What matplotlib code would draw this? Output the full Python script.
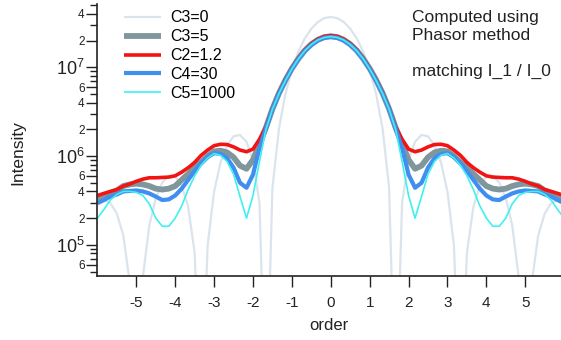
import numpy as np
import matplotlib
matplotlib.use("Agg")
import matplotlib.pyplot as plt
from matplotlib.ticker import FuncFormatter, FixedLocator

plt.rcParams["font.family"] = ["Liberation Sans", "DejaVu Sans"]
plt.rcParams["mathtext.fontset"] = "custom"
plt.rcParams["mathtext.rm"] = "Liberation Sans"
plt.rcParams["mathtext.it"] = "Liberation Sans:italic"
plt.rcParams["axes.unicode_minus"] = False

# diffraction order, sampled every 1/6
order = np.arange(-36, 37) / 6.0

c3_0 = [3.0e5, 3.2e5, 2.95e5, 2.25e5, 1.27e5, 3.7e4, 1e3, 4.3e4, 1.65e5, 3.37e5,
        5.02e5, 6.0e5, 5.89e5, 4.64e5, 2.68e5, 8.1e4, 1e3, 9.9e4, 4.0e5, 8.5e5,
        1.32e6, 1.67e6, 1.73e6, 1.45e6, 9.0e5, 2.96e5, 1e3, 4.42e5, 2.02e6, 5.01e6,
        9.42e6, 1.5e7, 2.12e7, 2.73e7, 3.24e7, 3.58e7,
        3.7e7,
        3.58e7, 3.24e7, 2.73e7, 2.12e7, 1.5e7, 9.42e6, 5.01e6, 2.02e6, 4.42e5, 1e3,
        2.96e5, 9.0e5, 1.45e6, 1.73e6, 1.67e6, 1.32e6, 8.5e5, 4.0e5, 9.9e4, 1e3,
        8.1e4, 2.68e5, 4.64e5, 5.89e5, 6.0e5, 5.02e5, 3.37e5, 1.65e5, 4.3e4, 1e3,
        3.7e4, 1.27e5, 2.25e5, 2.95e5, 3.2e5, 3.0e5]

c3_5 = [3.3e5, 3.55e5, 3.85e5, 4.1e5, 4.6e5, 4.8e5, 4.9e5, 4.8e5, 4.6e5, 4.3e5,
        4.2e5, 4.3e5, 4.6e5, 5.4e5, 6.3e5, 7.4e5, 8.5e5, 1.0e6, 1.13e6, 1.15e6,
        1.1e6, 9.7e5, 7.8e5, 7.2e5, 9.1e5, 1.38e6, 2.1e6, 3.4e6, 5.1e6, 7.2e6,
        9.7e6, 1.25e7, 1.55e7, 1.82e7, 2.04e7, 2.19e7,
        2.24e7,
        2.19e7, 2.04e7, 1.82e7, 1.55e7, 1.25e7, 9.7e6, 7.2e6, 5.1e6, 3.4e6, 2.1e6,
        1.38e6, 9.1e5, 7.2e5, 7.8e5, 9.7e5, 1.1e6, 1.15e6, 1.13e6, 1.0e6, 8.5e5,
        7.4e5, 6.3e5, 5.4e5, 4.6e5, 4.3e5, 4.2e5, 4.3e5, 4.6e5, 4.8e5, 4.9e5,
        4.8e5, 4.6e5, 4.1e5, 3.85e5, 3.55e5, 3.3e5]

c2_12 = [3.6e5, 3.8e5, 4.0e5, 4.2e5, 4.6e5, 4.85e5, 5.2e5, 5.5e5, 5.7e5, 5.7e5,
         5.75e5, 5.8e5, 6.0e5, 6.6e5, 7.4e5, 8.5e5, 1.02e6, 1.17e6, 1.31e6, 1.36e6,
         1.35e6, 1.27e6, 1.17e6, 1.12e6, 1.2e6, 1.55e6, 2.14e6, 3.45e6, 5.2e6, 7.3e6,
         9.8e6, 1.27e7, 1.57e7, 1.85e7, 2.08e7, 2.23e7,
         2.28e7,
         2.23e7, 2.08e7, 1.85e7, 1.57e7, 1.27e7, 9.8e6, 7.3e6, 5.2e6, 3.45e6, 2.14e6,
         1.55e6, 1.2e6, 1.12e6, 1.17e6, 1.27e6, 1.35e6, 1.36e6, 1.31e6, 1.17e6, 1.02e6,
         8.5e5, 7.4e5, 6.6e5, 6.0e5, 5.8e5, 5.75e5, 5.7e5, 5.7e5, 5.5e5, 5.2e5,
         4.85e5, 4.6e5, 4.2e5, 4.0e5, 3.8e5, 3.6e5]

c4_30 = [2.95e5, 3.2e5, 3.5e5, 3.7e5, 4.0e5, 4.05e5, 4.1e5, 4.0e5, 3.8e5, 3.5e5,
         3.2e5, 3.25e5, 3.6e5, 4.3e5, 5.4e5, 6.8e5, 8.3e5, 9.8e5, 1.08e6, 1.06e6,
         9.5e5, 7.4e5, 5.0e5, 4.4e5, 6.2e5, 1.23e6, 2.05e6, 3.38e6, 5.05e6, 7.1e6,
         9.6e6, 1.24e7, 1.53e7, 1.79e7, 2.01e7, 2.15e7,
         2.2e7,
         2.15e7, 2.01e7, 1.79e7, 1.53e7, 1.24e7, 9.6e6, 7.1e6, 5.05e6, 3.38e6, 2.05e6,
         1.23e6, 6.2e5, 4.4e5, 5.0e5, 7.4e5, 9.5e5, 1.06e6, 1.08e6, 9.8e5, 8.3e5,
         6.8e5, 5.4e5, 4.3e5, 3.6e5, 3.25e5, 3.2e5, 3.5e5, 3.8e5, 4.0e5, 4.1e5,
         4.05e5, 4.0e5, 3.7e5, 3.5e5, 3.2e5, 2.95e5]

c5_1000 = [2.0e5, 2.5e5, 3.2e5, 3.7e5, 4.0e5, 4.0e5, 3.9e5, 3.6e5, 2.9e5, 2.0e5,
           1.62e5, 1.62e5, 2.0e5, 2.75e5, 4.2e5, 6.0e5, 7.9e5, 9.5e5, 1.07e6, 1.02e6,
           8.7e5, 6.25e5, 3.5e5, 2.0e5, 3.6e5, 8.7e5, 2.0e6, 3.38e6, 5.05e6, 7.1e6,
           9.6e6, 1.25e7, 1.54e7, 1.81e7, 2.03e7, 2.17e7,
           2.22e7,
           2.17e7, 2.03e7, 1.81e7, 1.54e7, 1.25e7, 9.6e6, 7.1e6, 5.05e6, 3.38e6, 2.0e6,
           8.7e5, 3.6e5, 2.0e5, 3.5e5, 6.25e5, 8.7e5, 1.02e6, 1.07e6, 9.5e5, 7.9e5,
           6.0e5, 4.2e5, 2.75e5, 2.0e5, 1.62e5, 1.62e5, 2.0e5, 2.9e5, 3.6e5, 3.9e5,
           4.0e5, 4.0e5, 3.7e5, 3.2e5, 2.5e5, 2.0e5]

labels = ["C3=0", "C3=5", "C2=1.2", "C4=30", "C5=1000"]
colors = ["#dbe4ec", "#7f979c", "#f21414", "#3f8ef0", "#3ff0f0"]
widths = [1.6, 4.2, 2.6, 3.0, 1.2]
x_ticks = [-5, -4, -3, -2, -1, 0, 1, 2, 3, 4, 5]
# Igor style: decades plus 2/4/6 get a label and a long tick
y_labeled = [6e4, 1e5, 2e5, 4e5, 6e5, 1e6, 2e6, 4e6, 6e6, 1e7, 2e7, 4e7]
y_plain = [5e4, 7e4, 8e4, 9e4, 3e5, 5e5, 7e5, 8e5, 9e5, 3e6, 5e6, 7e6, 8e6, 9e6,
           3e7, 5e7]

fig = plt.figure(figsize=(5.61, 3.40), dpi=100)
ax = fig.add_axes([0.173, 0.188, 0.827, 0.800])

for y, lab, col, lw in zip([c3_0, c3_5, c2_12, c4_30, c5_1000], labels, colors, widths):
    ax.plot(order, y, color=col, lw=lw, label=lab, solid_capstyle="butt")

ax.set_yscale("log")
ax.set_xlim(-6.01, 5.92)
ax.set_ylim(4.45e4, 5.16e7)

ax.spines["top"].set_visible(False)
ax.spines["right"].set_visible(False)
for s in ("left", "bottom"):
    ax.spines[s].set_linewidth(1.2)
    ax.spines[s].set_color("#222222")

ax.xaxis.set_major_locator(FixedLocator(x_ticks))
ax.tick_params(axis="x", direction="out", length=8, width=1.0, labelsize=11,
               pad=6, colors="#222222")


def y_fmt(v, pos):
    e = int(np.floor(np.log10(v) + 1e-9))
    m = int(round(v / 10 ** e))
    if m == 1:
        return r"$10^{%d}$" % e
    return str(m)


ax.yaxis.set_major_locator(FixedLocator(y_labeled))
ax.yaxis.set_minor_locator(FixedLocator(y_plain))
ax.yaxis.set_major_formatter(FuncFormatter(y_fmt))
ax.yaxis.set_minor_formatter(FuncFormatter(lambda v, p: ""))
ax.tick_params(axis="y", which="major", direction="out", length=8, width=1.0,
               labelsize=8.5, pad=1, colors="#222222")
ax.tick_params(axis="y", which="minor", direction="out", length=5, width=1.0,
               colors="#222222")
for v, t in zip(y_labeled, ax.get_yticklabels()):
    if abs(np.log10(v) - round(np.log10(v))) < 1e-6:
        t.set_fontsize(13)

ax.set_xlabel("order", fontsize=12, color="#222222", labelpad=6)
fig.text(0.032, 0.55, "Intensity", rotation=90, fontsize=12.5, color="#222222",
         ha="center", va="center")

leg = ax.legend(loc="upper left", bbox_to_anchor=(0.045, 1.0), frameon=False,
                fontsize=11.5, handlelength=2.3, handletextpad=0.55,
                labelspacing=0.24, borderaxespad=0)

fig.text(0.735, 0.972, "Computed using\nPhasor method\n\nmatching I_1 / I_0",
         fontsize=12.5, color="#222222", ha="left", va="top", linespacing=1.25)

fig.savefig("out.png", dpi=100)
